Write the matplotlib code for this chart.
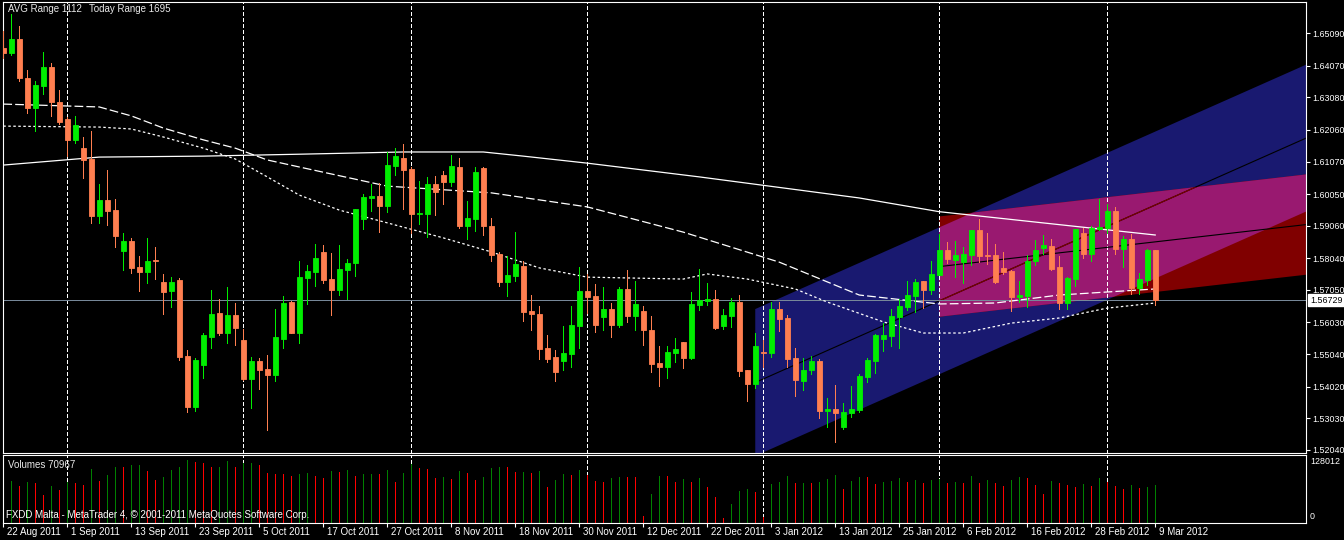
import numpy as np
import pandas as pd
import matplotlib
matplotlib.use("Agg")
import matplotlib.pyplot as plt
from matplotlib.patches import Polygon
import matplotlib.transforms as mtransforms

# daily GBPUSD-like bars, 22 Aug 2011 .. 9 Mar 2012 (weekdays only)
dates = pd.bdate_range("2011-08-22", "2012-03-09")

opens = [1.6464, 1.6446, 1.6491, 1.6369, 1.6276, 1.6345, 1.6403, 1.6294, 1.6240, 1.6175,
         1.6149, 1.6115, 1.5937, 1.5987, 1.5955, 1.5828, 1.5858, 1.5778, 1.5762, 1.5800,
         1.5730, 1.5703, 1.5736, 1.5498, 1.5338, 1.5471, 1.5559, 1.5633, 1.5570, 1.5626,
         1.5548, 1.5426, 1.5482, 1.5457, 1.5439, 1.5552, 1.5667, 1.5571, 1.5743, 1.5762,
         1.5824, 1.5739, 1.5706, 1.5768, 1.5790, 1.5928, 1.5994, 1.5999, 1.5969, 1.6094,
         1.6118, 1.6084, 1.5944, 1.5944, 1.6037, 1.6065, 1.6044, 1.6090, 1.5906, 1.5928,
         1.6087, 1.5905, 1.5818, 1.5731, 1.5750, 1.5780, 1.5639, 1.5630, 1.5523, 1.5495,
         1.5483, 1.5505, 1.5593, 1.5702, 1.5686, 1.5620, 1.5645, 1.5595, 1.5708, 1.5623,
         1.5639, 1.5579, 1.5476, 1.5465, 1.5507, 1.5542, 1.5492, 1.5658, 1.5671, 1.5677,
         1.5592, 1.5623, 1.5667, 1.5454, 1.5410, 1.5511, 1.5507, 1.5645, 1.5617, 1.5492,
         1.5420, 1.5454, 1.5482, 1.5326, 1.5332, 1.5276, 1.5320, 1.5329, 1.5432, 1.5482,
         1.5551, 1.5561, 1.5620, 1.5652, 1.5686, 1.5733, 1.5705, 1.5752, 1.5830, 1.5799,
         1.5792, 1.5814, 1.5893, 1.5814, 1.5814, 1.5774, 1.5764, 1.5683, 1.5686, 1.5796,
         1.5836, 1.5843, 1.5777, 1.5664, 1.5739, 1.5883, 1.5818, 1.5896, 1.5899, 1.5952,
         1.5833, 1.5864, 1.5711, 1.5736, 1.5830]
highs = [1.6516, 1.6569, 1.6532, 1.6394, 1.6359, 1.6451, 1.6416, 1.6331, 1.6247, 1.6250,
         1.6185, 1.6203, 1.6038, 1.6081, 1.5990, 1.5883, 1.5868, 1.5811, 1.5868, 1.5839,
         1.5755, 1.5745, 1.5742, 1.5517, 1.5491, 1.5569, 1.5705, 1.5677, 1.5714, 1.5664,
         1.5582, 1.5495, 1.5492, 1.5501, 1.5645, 1.5686, 1.5670, 1.5796, 1.5783, 1.5849,
         1.5846, 1.5821, 1.5846, 1.5802, 1.5958, 1.6005, 1.6038, 1.6040, 1.6137, 1.6149,
         1.6162, 1.6090, 1.6046, 1.6059, 1.6062, 1.6077, 1.6128, 1.6118, 1.5984, 1.6090,
         1.6090, 1.5930, 1.5824, 1.5811, 1.5886, 1.5796, 1.5689, 1.5655, 1.5564, 1.5517,
         1.5592, 1.5655, 1.5777, 1.5755, 1.5724, 1.5714, 1.5664, 1.5714, 1.5767, 1.5733,
         1.5655, 1.5623, 1.5529, 1.5529, 1.5554, 1.5542, 1.5699, 1.5771, 1.5727, 1.5705,
         1.5645, 1.5680, 1.5689, 1.5454, 1.5570, 1.5548, 1.5667, 1.5667, 1.5626, 1.5523,
         1.5492, 1.5498, 1.5489, 1.5367, 1.5407, 1.5351, 1.5404, 1.5442, 1.5492, 1.5567,
         1.5601, 1.5645, 1.5677, 1.5733, 1.5739, 1.5733, 1.5796, 1.5880, 1.5855, 1.5858,
         1.5839, 1.5893, 1.5927, 1.5883, 1.5849, 1.5824, 1.5767, 1.5733, 1.5814, 1.5861,
         1.5877, 1.5864, 1.5811, 1.5745, 1.5896, 1.5899, 1.5905, 1.5990, 1.5974, 1.5965,
         1.5874, 1.5880, 1.5758, 1.5833, 1.5830]
lows = [1.6430, 1.6441, 1.6360, 1.6258, 1.6204, 1.6319, 1.6251, 1.6225, 1.6124, 1.6166,
        1.6056, 1.5915, 1.5915, 1.5909, 1.5840, 1.5768, 1.5759, 1.5703, 1.5728, 1.5740,
        1.5631, 1.5652, 1.5485, 1.5324, 1.5327, 1.5430, 1.5524, 1.5563, 1.5540, 1.5532,
        1.5423, 1.5336, 1.5394, 1.5267, 1.5421, 1.5524, 1.5571, 1.5540, 1.5662, 1.5718,
        1.5727, 1.5627, 1.5690, 1.5678, 1.5750, 1.5897, 1.5953, 1.5887, 1.5950, 1.6066,
        1.5959, 1.5884, 1.5912, 1.5872, 1.5941, 1.5975, 1.6031, 1.5900, 1.5865, 1.5890,
        1.5878, 1.5797, 1.5718, 1.5687, 1.5734, 1.5609, 1.5580, 1.5490, 1.5480, 1.5421,
        1.5455, 1.5465, 1.5524, 1.5633, 1.5574, 1.5580, 1.5559, 1.5589, 1.5605, 1.5579,
        1.5533, 1.5448, 1.5405, 1.5430, 1.5479, 1.5461, 1.5489, 1.5642, 1.5658, 1.5583,
        1.5583, 1.5589, 1.5436, 1.5357, 1.5398, 1.5465, 1.5495, 1.5576, 1.5464, 1.5373,
        1.5392, 1.5442, 1.5304, 1.5276, 1.5229, 1.5269, 1.5307, 1.5323, 1.5417, 1.5445,
        1.5514, 1.5529, 1.5523, 1.5642, 1.5636, 1.5648, 1.5692, 1.5752, 1.5789, 1.5745,
        1.5727, 1.5783, 1.5792, 1.5786, 1.5727, 1.5755, 1.5639, 1.5667, 1.5652, 1.5783,
        1.5818, 1.5767, 1.5645, 1.5645, 1.5717, 1.5805, 1.5796, 1.5893, 1.5883, 1.5818,
        1.5777, 1.5692, 1.5692, 1.5720, 1.5658]
closes = [1.6448, 1.6491, 1.6369, 1.6276, 1.6347, 1.6403, 1.6295, 1.6232, 1.6175, 1.6222,
          1.6113, 1.5937, 1.5987, 1.5953, 1.5875, 1.5858, 1.5775, 1.5762, 1.5796, 1.5795,
          1.5699, 1.5730, 1.5496, 1.5338, 1.5486, 1.5564, 1.5630, 1.5570, 1.5626, 1.5587,
          1.5426, 1.5482, 1.5454, 1.5439, 1.5558, 1.5664, 1.5571, 1.5745, 1.5764, 1.5805,
          1.5736, 1.5706, 1.5771, 1.5789, 1.5958, 1.5996, 1.5999, 1.5969, 1.6096, 1.6124,
          1.6082, 1.5944, 1.5946, 1.6037, 1.6012, 1.6043, 1.6093, 1.5905, 1.5930, 1.6074,
          1.5906, 1.5815, 1.5731, 1.5752, 1.5786, 1.5637, 1.5631, 1.5521, 1.5490, 1.5449,
          1.5507, 1.5595, 1.5702, 1.5684, 1.5595, 1.5645, 1.5595, 1.5708, 1.5623, 1.5661,
          1.5579, 1.5473, 1.5465, 1.5511, 1.5520, 1.5492, 1.5661, 1.5673, 1.5677, 1.5586,
          1.5626, 1.5667, 1.5451, 1.5410, 1.5529, 1.5508, 1.5645, 1.5614, 1.5489, 1.5423,
          1.5454, 1.5482, 1.5326, 1.5332, 1.5320, 1.5323, 1.5332, 1.5435, 1.5486, 1.5564,
          1.5564, 1.5623, 1.5655, 1.5689, 1.5730, 1.5705, 1.5755, 1.5830, 1.5802, 1.5814,
          1.5818, 1.5893, 1.5811, 1.5811, 1.5730, 1.5761, 1.5683, 1.5689, 1.5796, 1.5830,
          1.5846, 1.5770, 1.5664, 1.5742, 1.5896, 1.5818, 1.5899, 1.5902, 1.5952, 1.5833,
          1.5864, 1.5711, 1.5739, 1.5830, 1.56729]
volumes = [73700, 78800, 69400, 77000, 75600, 53000, 69400, 61800, 77000, 75100,
           71300, 101500, 78800, 90200, 105300, 105000, 109100, 109500, 97800, 80700,
           86400, 99700, 105300, 118600, 114800, 112900, 105300, 105600, 116700, 105300,
           112300, 112900, 109100, 94000, 92100, 91800, 88300, 92100, 94000, 88300,
           84500, 97800, 95900, 99700, 88300, 92100, 92400, 92000, 99700, 77000,
           94000, 111000, 103400, 101500, 84500, 86400, 82600, 97800, 94000, 80700,
           86400, 103400, 105300, 105000, 95900, 96200, 94000, 97800, 67500, 80700,
           92100, 90200, 99700, 90200, 78800, 77000, 84500, 86400, 86100, 85800,
           12700, 54300, 88300, 88000, 77000, 82600, 77000, 84500, 67500, 48600,
           8900, 35400, 59900, 63700, 58100, 10800, 73200, 77000, 88300, 75100,
           75400, 75000, 77000, 82600, 90200, 63700, 78800, 86400, 86100, 73200,
           77000, 78800, 84500, 77000, 80700, 75100, 80700, 82600, 75100, 77000,
           75100, 88300, 75100, 80700, 75100, 69400, 80700, 86400, 84500, 71300,
           54300, 78800, 75100, 71300, 67500, 73200, 69400, 84500, 77000, 69400,
           63700, 71300, 65600, 67500, 70967]

# moving averages at a few bars
ma_long_bars = [0, 12, 25, 37, 50, 60, 65, 73, 87, 107, 117, 144]
ma_long = [1.6096, 1.6121, 1.6124, 1.6130, 1.6137, 1.6137, 1.6124, 1.6102, 1.6059, 1.5993, 1.5950, 1.5877]
ma_mid_bars = [0, 12, 16, 20, 25, 29, 33, 37, 48, 61, 73, 85, 97, 107, 117, 124, 132, 144]
ma_mid = [1.6287, 1.6278, 1.6250, 1.6212, 1.6175, 1.6149, 1.6112, 1.6090, 1.6030, 1.6009,
          1.5965, 1.5886, 1.5792, 1.5689, 1.5661, 1.5664, 1.5689, 1.5708]
ma_short_bars = [0, 12, 16, 20, 25, 29, 33, 37, 42, 48, 55, 61, 67, 73, 85, 88, 93, 99,
                 103, 110, 115, 120, 126, 132, 138, 144]
ma_short = [1.6218, 1.6215, 1.6209, 1.6184, 1.6149, 1.6115, 1.6059, 1.6002, 1.5955, 1.5915,
            1.5868, 1.5824, 1.5774, 1.5745, 1.5739, 1.5755, 1.5739, 1.5708, 1.5667, 1.5605,
            1.5570, 1.5570, 1.5601, 1.5617, 1.5648, 1.5664]

# regression channels: start/end bar, midline price, half width
blue_bars = [94, 163]
blue_mid = [1.5415, 1.6182]
blue_half = 0.0230
red_bars = [117, 163]
red_mid = [1.5778, 1.5910]
red_half = 0.0157

price_ticks = ["1.65090", "1.64070", "1.63080", "1.62060", "1.61070", "1.60050", "1.59060",
               "1.58040", "1.57050", "1.56030", "1.55040", "1.54020", "1.53030", "1.52040"]
last_price = 1.56729

W, H = 1344, 540
BULL, BEAR = "#00ee00", "#ff7f50"
FS = 7      # captions and dates
FS_AX = 6.4  # right-hand price labels, must fit in the margin
PX = 0.5    # line width that renders as one pixel without antialiasing
plt.rcParams["font.family"] = ["Liberation Sans", "DejaVu Sans"]
plt.rcParams["font.size"] = FS


def _px_axes(fig, left, top, right, bottom):
    # axes placed by pixel edges of the 1344x540 canvas
    return fig.add_axes([left / W, 1 - bottom / H, (right - left) / W, (bottom - top) / H])


def _style(ax):
    ax.set_facecolor("black")
    for sp in ax.spines.values():
        sp.set_color("white")
        sp.set_linewidth(0.8)


def _channel(ax, bars, mid, half, **kw):
    verts = [(bars[0], mid[0] + half), (bars[1], mid[1] + half),
             (bars[1], mid[1] - half), (bars[0], mid[0] - half)]
    poly = Polygon(verts, closed=True, linewidth=0, **kw)
    ax.add_patch(poly)
    return poly


x = np.arange(len(dates))
fig = plt.figure(figsize=(W / 100, H / 100), dpi=100, facecolor="black")
ax = _px_axes(fig, 2.5, 2, 1306, 452.5)
axv = _px_axes(fig, 2.5, 454.5, 1306, 522.7)
for a in (ax, axv):
    _style(a)
    a.set_xlim(-0.1, 162.85)

ax.set_ylim(1.51958, 1.66067)
axv.set_ylim(0, 129000)

# channels (overlap of maroon and navy shows as magenta like in MT4)
blue = _channel(ax, blue_bars, blue_mid, blue_half, facecolor="#191970", zorder=0.3)
_channel(ax, red_bars, red_mid, red_half, facecolor="#800000", zorder=0.4)
over = _channel(ax, red_bars, red_mid, red_half, facecolor="#991970", zorder=0.5)
over.set_clip_path(blue)
ax.plot(blue_bars, blue_mid, color="black", lw=0.8, zorder=1.2)
red_line = ax.plot(blue_bars, blue_mid, color="#800000", lw=0.8, zorder=1.25)[0]
red_line.set_clip_path(over)
ax.plot(red_bars, red_mid, color="black", lw=0.8, zorder=1.3)

# month separators
month_start = [i for i in range(1, len(dates)) if dates[i].month != dates[i - 1].month]
for a in (ax, axv):
    for b in month_start:
        a.axvline(b, color="white", lw=PX, ls=(0, (4.5, 3.2)), zorder=1, antialiased=False)

ax.axhline(last_price, color="#778899", lw=PX, zorder=1.5, antialiased=False)

# moving averages
ax.plot(ma_long_bars, ma_long, color="white", lw=0.9, zorder=2)
ax.plot(ma_mid_bars, ma_mid, color="white", lw=0.9, ls=(0, (7, 2.5)), zorder=2)
ax.plot(ma_short_bars, ma_short, color="white", lw=0.9, ls=(0, (2, 2)), zorder=2)

# candles
o, h, l, c = map(np.array, (opens, highs, lows, closes))
cols = np.where(c >= o, BULL, BEAR)
ax.vlines(x, l, h, colors=cols, lw=PX, zorder=3, antialiased=False)
ax.bar(x, c - o, bottom=o, width=0.62, color=cols, edgecolor=cols, linewidth=0.6, zorder=3.1)

# volumes: green when higher than the previous bar
vol = np.array(volumes)
vcols = ["#ff0000"] + ["#008000" if vol[i] > vol[i - 1] else "#ff0000" for i in range(1, len(vol))]
axv.vlines(x, 0, vol, colors=vcols, lw=PX, zorder=2, antialiased=False)

# right price axis
ax.set_xticks([])
ax.yaxis.tick_right()
ax.set_yticks([float(t) for t in price_ticks])
ax.set_yticklabels(price_ticks)
ax.tick_params(axis="y", colors="white", length=3, width=0.8, pad=1.2, labelsize=FS_AX)
ax.annotate(f"{last_price:.5f}", xy=(1, last_price), xycoords=("axes fraction", "data"),
            xytext=(3, 0), textcoords="offset points", va="center", ha="left",
            color="black", fontsize=FS_AX,
            bbox=dict(boxstyle="square,pad=0.2", fc="white", ec="white"))

# volume axis
axv.set_yticks([])
axv.text(1.0, 1.0, "128012", transform=axv.transAxes + mtransforms.ScaledTranslation(4 / 100, -7 / 100, fig.dpi_scale_trans),
         color="white", va="center", ha="left", fontsize=FS_AX)
axv.text(1.0, 0.0, "0", transform=axv.transAxes + mtransforms.ScaledTranslation(4 / 100, 6 / 100, fig.dpi_scale_trans),
         color="white", va="center", ha="left", fontsize=FS_AX)

# date axis
lab_idx = x[::8]
axv.set_xticks(lab_idx)
axv.set_xticklabels([])
axv.tick_params(axis="x", colors="white", length=3, width=0.8)
for i in lab_idx:
    d = dates[i]
    axv.annotate(f"{d.day} {d:%b %Y}", xy=(i, 0), xycoords=("data", "axes fraction"),
                 xytext=(2.8, -6.5), textcoords="offset points", va="center", ha="left",
                 color="white", fontsize=FS)

# captions
fig.text(8 / W, 1 - 9 / H, "AVG Range 1112", color="#e8e8e8", va="center", ha="left", fontsize=FS)
fig.text(89 / W, 1 - 9 / H, "Today Range 1695", color="#e8e8e8", va="center", ha="left", fontsize=FS)
fig.text(8 / W, 1 - 465 / H, "Volumes 70967", color="#e8e8e8", va="center", ha="left", fontsize=FS)
fig.text(6.5 / W, 1 - 515 / H, "FXDD Malta - MetaTrader 4, \u00a9 2001-2011 MetaQuotes Software Corp.",
         color="white", va="center", ha="left", fontsize=FS, zorder=5)

fig.savefig("out.png", dpi=100, facecolor="black")
